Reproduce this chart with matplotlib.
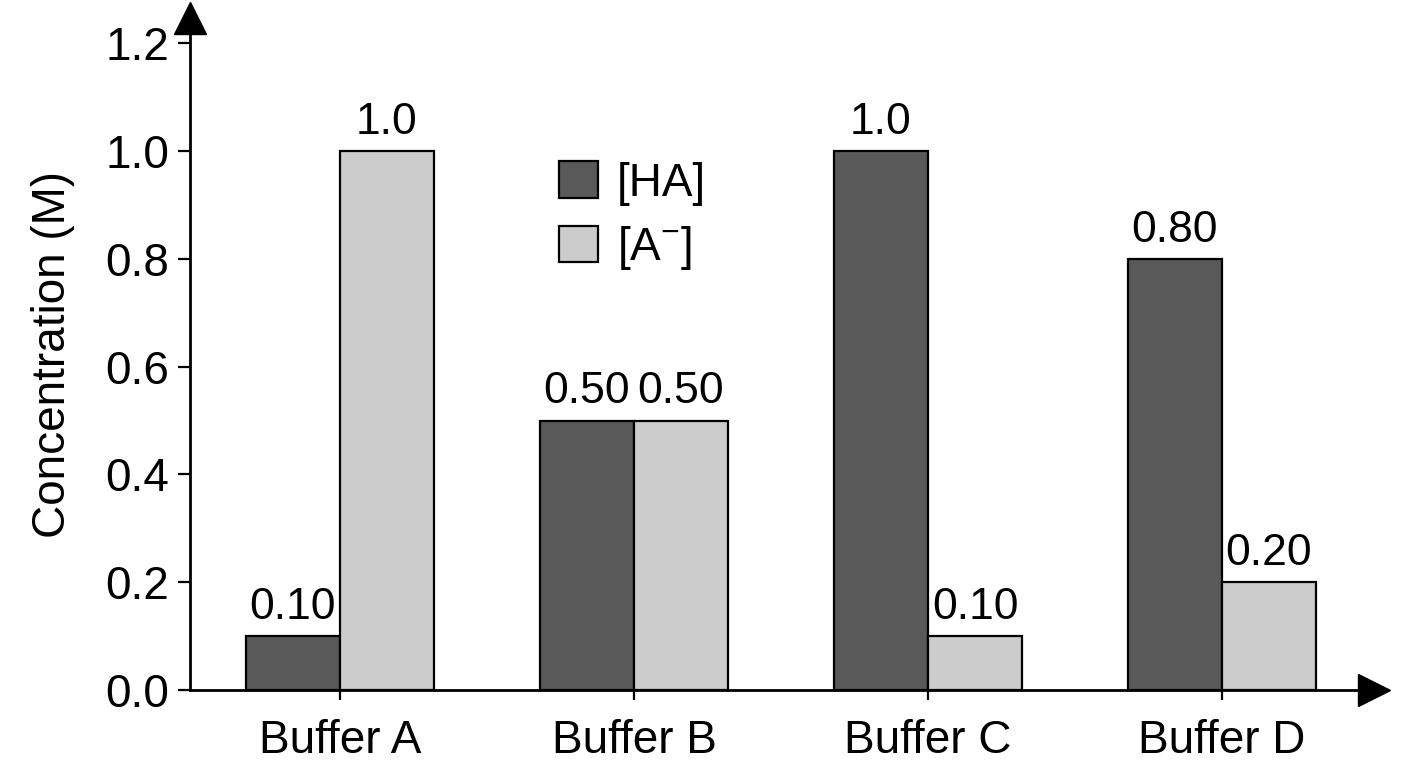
import matplotlib
matplotlib.use('Agg')
from matplotlib import pyplot as plt
import numpy as np

buffers = ['Buffer A', 'Buffer B', 'Buffer C', 'Buffer D']
ha = [0.10, 0.50, 1.0, 0.80]
a_minus = [1.0, 0.50, 0.10, 0.20]
ha_labels = ['0.10', '0.50', '1.0', '0.80']
a_labels = ['1.0', '0.50', '0.10', '0.20']
yticks = [0.0, 0.2, 0.4, 0.6, 0.8, 1.0, 1.2]

plt.rcParams['font.family'] = ['Liberation Sans', 'DejaVu Sans']
plt.rcParams['mathtext.default'] = 'regular'

fig = plt.figure(figsize=(14.08, 7.68), dpi=100)
ax = fig.add_axes([190/1408, 78/768, 1184/1408, 672/768])

x = np.arange(len(buffers))
w = 0.32
b1 = ax.bar(x - w/2, ha, w, color='#595959', edgecolor='black', linewidth=1.6, label='[HA]')
b2 = ax.bar(x + w/2, a_minus, w, color='#cccccc', edgecolor='black', linewidth=1.6, label='[A$^{-}$]')

fs = 33
bfs = 32
for rect, lab in zip(b1, ha_labels):
    ax.annotate(lab, (rect.get_x() + rect.get_width()/2, rect.get_height()),
                xytext=(0, 6), textcoords='offset points', ha='center', va='bottom', fontsize=bfs)
for rect, lab in zip(b2, a_labels):
    ax.annotate(lab, (rect.get_x() + rect.get_width()/2, rect.get_height()),
                xytext=(0, 6), textcoords='offset points', ha='center', va='bottom', fontsize=bfs)

ax.set_xlim(-0.51, 3.517)
ax.set_ylim(0, 1.247)
ax.set_yticks(yticks)
ax.set_yticklabels(['%.1f' % v for v in yticks], fontsize=fs)
ax.set_xticks(x)
ax.set_xticklabels(buffers, fontsize=fs)
ax.tick_params(axis='y', width=1.6, length=9, direction='out', pad=6)
ax.tick_params(axis='x', width=1.6, length=7, direction='out', pad=14)
ax.set_ylabel('Concentration (M)', fontsize=fs, labelpad=22)

for s in ['top', 'right']:
    ax.spines[s].set_visible(False)
for s in ['left', 'bottom']:
    ax.spines[s].set_linewidth(2)

ax.plot(1, 0, marker='>', markersize=23, color='black', transform=ax.transAxes, clip_on=False)
ax.plot(0, 1, marker='^', markersize=23, color='black', transform=ax.transAxes, clip_on=False)

ax.legend(loc='upper left', bbox_to_anchor=(0.277, 0.848), frameon=False, fontsize=fs,
          handlelength=0.85, handleheight=0.85, handletextpad=0.4, labelspacing=0.4)

fig.savefig('out.png', dpi=100)
